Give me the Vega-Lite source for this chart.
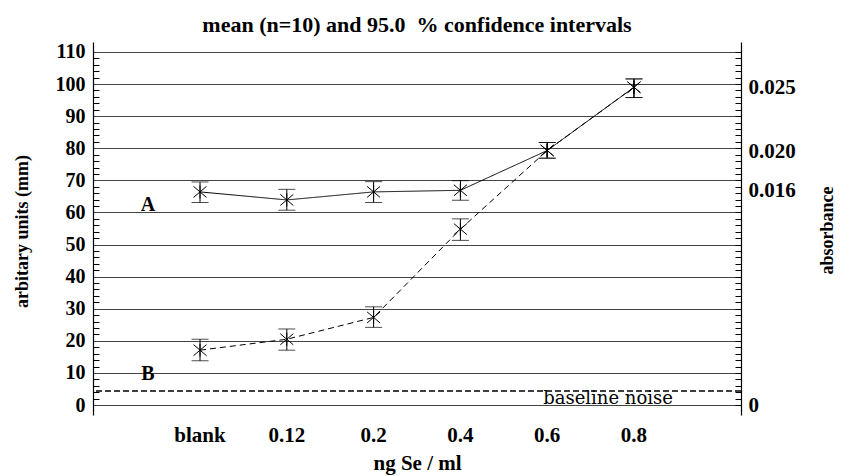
{
  "$schema": "https://vega.github.io/schema/vega-lite/v6.json",
  "width": 648,
  "height": 373,
  "autosize": {"type": "none"},
  "padding": {"left": 93, "top": 42, "right": 100, "bottom": 61},
  "background": "white",
  "config": {"view": {"stroke": null}, "font": "Liberation Serif"},
  "title": {
    "text": "mean (n=10) and 95.0\u00a0 % confidence intervals",
    "font": "Liberation Serif",
    "fontSize": 22,
    "fontWeight": "bold",
    "color": "black",
    "anchor": "middle",
    "frame": "group",
    "baseline": "alphabetic",
    "offset": 11,
    "dy": 24
  },
  "datasets": {
    "points": [
      {"series": "A", "conc": "blank", "mean": 66.4, "lo": 63.1, "hi": 69.5},
      {"series": "A", "conc": "0.12", "mean": 63.9, "lo": 60.7, "hi": 67.2},
      {"series": "A", "conc": "0.2", "mean": 66.4, "lo": 63.1, "hi": 69.6},
      {"series": "A", "conc": "0.4", "mean": 66.9, "lo": 63.8, "hi": 69.9},
      {"series": "A", "conc": "0.6", "mean": 79.3, "lo": 76.9, "hi": 81.8},
      {"series": "A", "conc": "0.8", "mean": 99.0, "lo": 95.8, "hi": 101.6},
      {"series": "B", "conc": "blank", "mean": 17.1, "lo": 13.8, "hi": 20.5},
      {"series": "B", "conc": "0.12", "mean": 20.5, "lo": 17.1, "hi": 23.7},
      {"series": "B", "conc": "0.2", "mean": 27.3, "lo": 24.2, "hi": 30.6},
      {"series": "B", "conc": "0.4", "mean": 54.8, "lo": 51.3, "hi": 58.0},
      {"series": "B", "conc": "0.6", "mean": 79.3, "lo": 76.9, "hi": 81.8},
      {"series": "B", "conc": "0.8", "mean": 99.0, "lo": 95.8, "hi": 101.6}
    ],
    "seriesLabels": [
      {"label": "A", "conc": "blank", "y": 62.3},
      {"label": "B", "conc": "blank", "y": 9.7}
    ],
    "noise": [
      {"label": "baseline noise", "conc": "0.6", "level": 4.4, "y": 2.0}
    ]
  },
  "layer": [
    {
      "data": {"name": "points"},
      "mark": {"type": "line", "color": "black", "strokeWidth": 1},
      "encoding": {
        "x": {
          "field": "conc",
          "type": "ordinal",
          "sort": ["blank", "0.12", "0.2", "0.4", "0.6", "0.8"],
          "scale": {"type": "band", "paddingInner": 0, "paddingOuter": 0.733},
          "axis": {
            "title": "ng Se / ml",
            "titleFont": "Liberation Serif",
            "titleFontSize": 21,
            "titleFontWeight": "bold",
            "titleColor": "black",
            "titleX": 324,
            "titleY": 48,
            "titleBaseline": "middle",
            "titleAlign": "center",
            "labelFont": "Liberation Serif",
            "labelFontSize": 21,
            "labelFontWeight": "bold",
            "labelColor": "black",
            "labelAngle": 0,
            "labelPadding": 9,
            "ticks": false,
            "domain": false,
            "grid": false
          }
        },
        "y": {
          "field": "mean",
          "type": "quantitative",
          "scale": {"domain": [-3.1, 113.1], "nice": false, "zero": false},
          "axis": {
            "orient": "left",
            "values": [0, 2, 4, 6, 8, 10, 12, 14, 16, 18, 20, 22, 24, 26, 28, 30, 32, 34, 36, 38, 40, 42, 44, 46, 48, 50, 52, 54, 56, 58, 60, 62, 64, 66, 68, 70, 72, 74, 76, 78, 80, 82, 84, 86, 88, 90, 92, 94, 96, 98, 100, 102, 104, 106, 108, 110],
            "labelExpr": "datum.value % 10 === 0 ? datum.label : ''",
            "labelOverlap": false,
            "labelBound": false,
            "grid": true,
            "gridColor": "#444444",
            "gridWidth": 1,
            "gridOpacity": {"condition": {"test": "datum.value % 10 === 0", "value": 1}, "value": 0},
            "tickSize": -6,
            "tickColor": "black",
            "tickOpacity": {"condition": {"test": "datum.value % 10 === 0", "value": 0}, "value": 1},
            "domainColor": "black",
            "domainWidth": 1.2,
            "labelFont": "Liberation Serif",
            "labelFontSize": 20,
            "labelFontWeight": "bold",
            "labelColor": "black",
            "labelPadding": 14,
            "title": "arbitary units (mm)",
            "titleFont": "Liberation Serif",
            "titleFontSize": 18,
            "titleFontWeight": "bold",
            "titleColor": "black",
            "titleAngle": 270,
            "titleX": -71,
            "titleY": 189,
            "titleBaseline": "middle",
            "titleAlign": "center"
          }
        },
        "strokeDash": {
          "field": "series",
          "type": "nominal",
          "scale": {"domain": ["A", "B"], "range": [[1, 0], [6, 4]]},
          "legend": null
        }
      }
    },
    {
      "data": {"name": "points"},
      "mark": {"type": "rule", "color": "black", "strokeWidth": 1},
      "encoding": {
        "x": {"field": "conc", "type": "ordinal", "sort": ["blank", "0.12", "0.2", "0.4", "0.6", "0.8"]},
        "y": {"field": "lo", "type": "quantitative", "axis": null},
        "y2": {"field": "hi"}
      }
    },
    {
      "data": {"name": "points"},
      "mark": {"type": "tick", "color": "black", "thickness": 1, "size": 17, "orient": "horizontal"},
      "encoding": {
        "x": {"field": "conc", "type": "ordinal", "sort": ["blank", "0.12", "0.2", "0.4", "0.6", "0.8"]},
        "y": {"field": "lo", "type": "quantitative", "axis": null}
      }
    },
    {
      "data": {"name": "points"},
      "mark": {"type": "tick", "color": "black", "thickness": 1, "size": 17, "orient": "horizontal"},
      "encoding": {
        "x": {"field": "conc", "type": "ordinal", "sort": ["blank", "0.12", "0.2", "0.4", "0.6", "0.8"]},
        "y": {"field": "hi", "type": "quantitative", "axis": null}
      }
    },
    {
      "data": {"name": "points"},
      "mark": {
        "type": "point",
        "shape": "M-1,-0.85L1,0.85M-1,0.85L1,-0.85M0,-1L0,1",
        "size": 169,
        "filled": false,
        "stroke": "black",
        "strokeWidth": 1,
        "opacity": 1
      },
      "encoding": {
        "x": {"field": "conc", "type": "ordinal", "sort": ["blank", "0.12", "0.2", "0.4", "0.6", "0.8"]},
        "y": {
          "field": "mean",
          "type": "quantitative",
          "axis": {
            "orient": "right",
            "values": [0, 2, 4, 6, 8, 10, 12, 14, 16, 18, 20, 22, 24, 26, 28, 30, 32, 34, 36, 38, 40, 42, 44, 46, 48, 50, 52, 54, 56, 58, 60, 62, 64, 66, 68, 70, 72, 74, 76, 78, 80, 82, 84, 86, 88, 90, 92, 94, 96, 98, 100, 102, 104, 106, 108, 110, 66.8, 78.9, 98.8],
            "labelExpr": "datum.value == 98.8 ? '0.025' : datum.value == 78.9 ? '0.020' : datum.value == 66.8 ? '0.016' : datum.value == 0 ? '0' : ''",
            "labelOverlap": false,
            "labelBound": false,
            "grid": false,
            "tickSize": -6,
            "tickColor": "black",
            "tickOpacity": {"condition": {"test": "datum.value % 2 !== 0", "value": 0}, "value": 1},
            "domainColor": "black",
            "domainWidth": 1.2,
            "labelFont": "Liberation Serif",
            "labelFontSize": 21,
            "labelFontWeight": "bold",
            "labelColor": "black",
            "labelPadding": 13,
            "title": "absorbance",
            "titleFont": "Liberation Serif",
            "titleFontSize": 18,
            "titleFontWeight": "bold",
            "titleColor": "black",
            "titleAngle": 270,
            "titleX": 86,
            "titleY": 188,
            "titleBaseline": "middle",
            "titleAlign": "center"
          }
        }
      }
    },
    {
      "data": {"name": "noise"},
      "mark": {"type": "rule", "color": "black", "strokeWidth": 1.5, "strokeDash": [6, 3]},
      "encoding": {
        "y": {"field": "level", "type": "quantitative", "axis": null}
      }
    },
    {
      "data": {"name": "noise"},
      "mark": {"type": "text", "font": "DejaVu Serif", "fontSize": 18, "color": "black", "align": "left", "baseline": "middle", "dx": -4},
      "encoding": {
        "x": {"field": "conc", "type": "ordinal", "sort": ["blank", "0.12", "0.2", "0.4", "0.6", "0.8"]},
        "y": {"field": "y", "type": "quantitative", "axis": null},
        "text": {"field": "label"}
      }
    },
    {
      "data": {"name": "seriesLabels"},
      "mark": {"type": "text", "font": "Liberation Serif", "fontSize": 20, "fontWeight": "bold", "color": "black", "align": "center", "baseline": "middle", "dx": -52},
      "encoding": {
        "x": {"field": "conc", "type": "ordinal", "sort": ["blank", "0.12", "0.2", "0.4", "0.6", "0.8"]},
        "y": {"field": "y", "type": "quantitative", "axis": null},
        "text": {"field": "label"}
      }
    }
  ],
  "resolve": {"axis": {"y": "independent"}}
}
